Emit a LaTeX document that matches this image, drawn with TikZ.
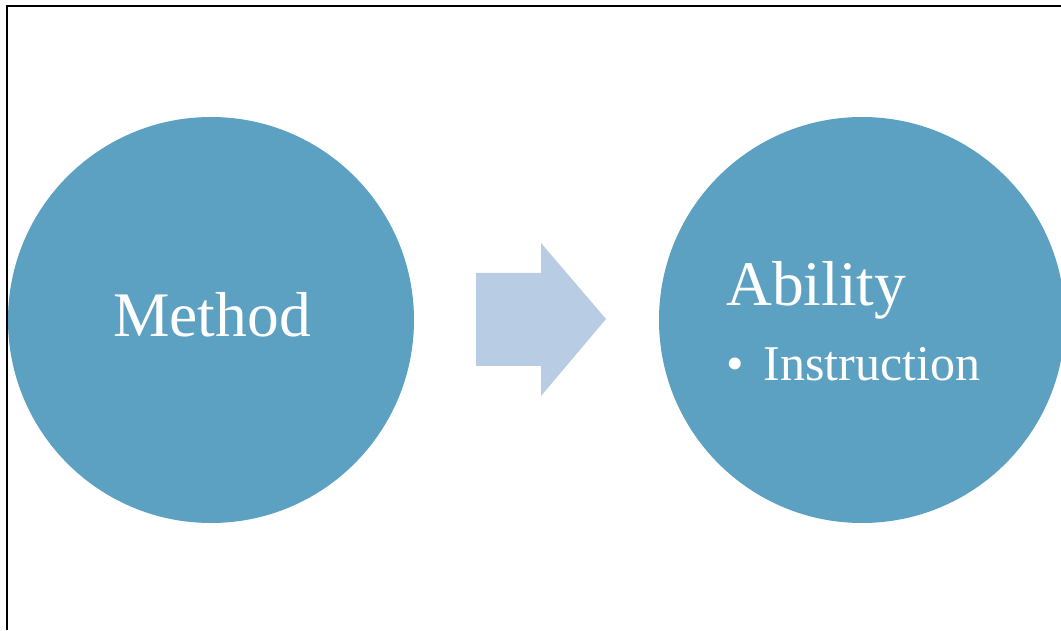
\documentclass[tikz,border=0pt]{standalone}
\usepackage{fontspec}
\setmainfont{Liberation Serif}
\usepackage{tikz}
\usetikzlibrary{positioning}
\definecolor{bubbleblue}{HTML}{5DA1C2}
\definecolor{arrowblue}{HTML}{B8CDE3}
\tikzset{
    x=1pt, y=1pt, % one unit is one point
    bubble/.style={circle, fill=bubbleblue, minimum size=406pt, inner sep=0pt}, % the two big discs
    bigtext/.style={text=white, font=\fontsize{63.5}{76}\selectfont, inner sep=0pt}, % headings
    smalltext/.style={text=white, font=\fontsize{50}{60}\selectfont, inner sep=0pt}, % bullet line
}
\begin{document}
\begin{tikzpicture}
\useasboundingbox (0,0) rectangle (1061,630);
\fill[white] (0,0) rectangle (1061,630);
% frame, only top and left sides show
\draw[line width=2pt] (7,0) -- (7,624) -- (1061,624);
\node[bubble] (method)  at (211,310) {};
\node[bubble] (ability) at (862,310) {};
\node[bigtext, anchor=base] (methodtext) at (212,293) {Method};
\node[bigtext, anchor=base west] (abilitytext) at (726,324) {Ability};
\node[smalltext, anchor=base west] (instr) at (726,249) {•\hspace{20pt}Instruction};
% the block arrow
\fill[arrowblue] (476,264) -- (476,357) -- (541,357) -- (541,387)
    -- (606,311) -- (541,234) -- (541,264) -- cycle;
\end{tikzpicture}
\end{document}
